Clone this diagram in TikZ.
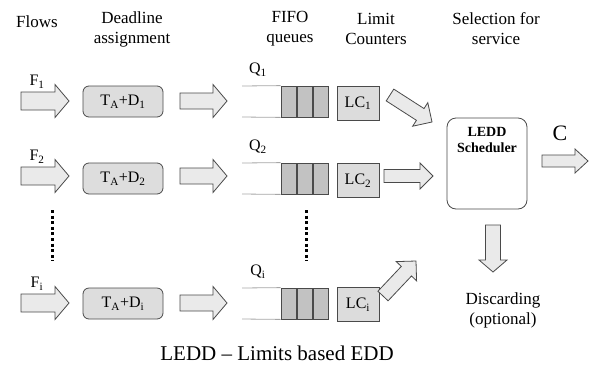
\documentclass[tikz,border=0pt]{standalone}
\usepackage{fontspec}
\setmainfont{Liberation Serif}
\usetikzlibrary{calc,positioning}
\definecolor{arrowfill}{HTML}{EAEAEA}
\definecolor{boxfill}{HTML}{DDDDDD}
\definecolor{cellfill}{HTML}{C2C2C2}
\definecolor{lcfill}{HTML}{DCDCDC}
\definecolor{edge}{HTML}{4A4A4A}
% #1 tail, #2 tip, #3 shaft half width, #4 head half width, #5 head length
\newcommand\blockarrow[5]{%
  \coordinate (hb) at ($(#2)!#5!(#1)$);
  \draw[arrowstyle]
    ($(#1)!#3!90:(#2)$) -- ($(hb)!#3!90:(#2)$) -- ($(hb)!#4!90:(#2)$) -- (#2)
    -- ($(hb)!#4!-90:(#2)$) -- ($(hb)!#3!-90:(#2)$) -- ($(#1)!#3!-90:(#2)$) -- cycle;}
\tikzset{
  arrowstyle/.style={draw=edge, fill=arrowfill, line width=0.8pt, line join=miter},
  head/.style={align=center, font=\fontsize{17}{20}\selectfont},
  lbl/.style={font=\fontsize{16}{19}\selectfont, inner sep=0pt},
  dlbox/.style={draw=edge, fill=boxfill, rounded corners=6pt, line width=0.8pt,
    minimum width=80pt, minimum height=31pt, inner sep=0pt, font=\fontsize{16}{19}\selectfont},
  lcbox/.style={draw=edge, fill=lcfill, line width=0.8pt, minimum width=42pt,
    minimum height=34pt, inner sep=0pt, font=\fontsize{16}{19}\selectfont},
  cell/.style={draw=edge, fill=cellfill, line width=0.8pt, minimum width=15.33pt,
    minimum height=31pt, inner sep=0pt},
  qline/.style={draw=gray!70, line width=0.8pt},
  dots/.style={line width=3pt, dash pattern=on 3pt off 2.6pt},
}
\begin{document}
\begin{tikzpicture}[x=1pt,y=-1pt]
\useasboundingbox (0,0) rectangle (589,365);
% headers
\node[head] (hflows) at (37,22) {Flows};
\node[head] (hdead) at (132,29) {Deadline\\assignment};
\node[head] (hfifo) at (290,29) {FIFO\\queues};
\node[head] (hlim) at (376,29) {Limit\\Counters};
\node[head] (hsel) at (496,29) {Selection for\\service};

% scheduler
\node[draw=edge, line width=0.8pt, rounded corners=9pt, minimum width=80pt,
  minimum height=91pt, inner sep=0pt] (sched) at (487,163.5) {};
\node[font=\bfseries\fontsize{14}{16}\selectfont, align=center] (schedtxt) at (487,140) {LEDD\\Scheduler};
\node[font=\fontsize{22}{24}\selectfont, inner sep=0pt] (C) at (560,133) {C};
\coordinate (outA) at (542,161);
\coordinate (outB) at (588,161);
\blockarrow{outA}{outB}{6pt}{12pt}{13pt}
\coordinate (dnA) at (493,225);
\coordinate (dnB) at (493,272);
\blockarrow{dnA}{dnB}{7.5pt}{14pt}{12pt}
\node[head] (disc) at (503,310) {Discarding\\(optional)};

% rows
\foreach \r/\cy/\ay/\lcy/\sub in {1/101.5/101/103/1, 2/178.5/176/180.5/2, 3/303.5/303/304.5/i}{
  \coordinate (fA\r) at (21,\ay);
  \coordinate (fB\r) at (69,\ay);
  \blockarrow{fA\r}{fB\r}{9pt}{16.5pt}{14pt}
  \node[lbl] (F\r) at (37,\ay-19) {F\textsubscript{\sub}};
  \node[dlbox] (dl\r) at (123,\cy) {T\textsubscript{A}+D\textsubscript{\sub}};
  \coordinate (gA\r) at (180,\ay);
  \coordinate (gB\r) at (227,\ay);
  \blockarrow{gA\r}{gB\r}{8pt}{16.5pt}{14pt}
  \node[cell] (c1\r) at (288.67,\cy) {};
  \node[cell, right=0pt of c1\r] (c2\r) {};
  \node[cell, right=0pt of c2\r] (c3\r) {};
  \coordinate (qt\r) at (242,\cy-15.5);
  \coordinate (qb\r) at (242,\cy+15.5);
  \draw[qline] (qt\r) -- (c1\r.north west);
  \draw[qline] (qb\r) -- (c1\r.south west);
  \node[lbl] (Q\r) at (258,\cy-32) {Q\textsubscript{\sub}};
  \node[lcbox] (lc\r) at (358,\lcy) {LC\textsubscript{\sub}};
}
% arrows to scheduler
\coordinate (d1A) at (390,95);
\coordinate (d1B) at (432,122);
\blockarrow{d1A}{d1B}{7pt}{14pt}{14pt}
\coordinate (d2A) at (384,176);
\coordinate (d2B) at (433,176);
\blockarrow{d2A}{d2B}{6.5pt}{13pt}{13pt}
\coordinate (d3A) at (383,296);
\coordinate (d3B) at (416,261);
\blockarrow{d3A}{d3B}{7pt}{14pt}{14pt}

% dots
\coordinate (v1a) at (52,210);
\coordinate (v1b) at (52,261);
\draw[dots] (v1a) -- (v1b);
\coordinate (v2a) at (306,210);
\coordinate (v2b) at (306,261);
\draw[dots] (v2a) -- (v2b);

% caption
\node[font=\fontsize{21}{24}\selectfont] (cap) at (277,353) {LEDD -- Limits based EDD};
\end{tikzpicture}
\end{document}
